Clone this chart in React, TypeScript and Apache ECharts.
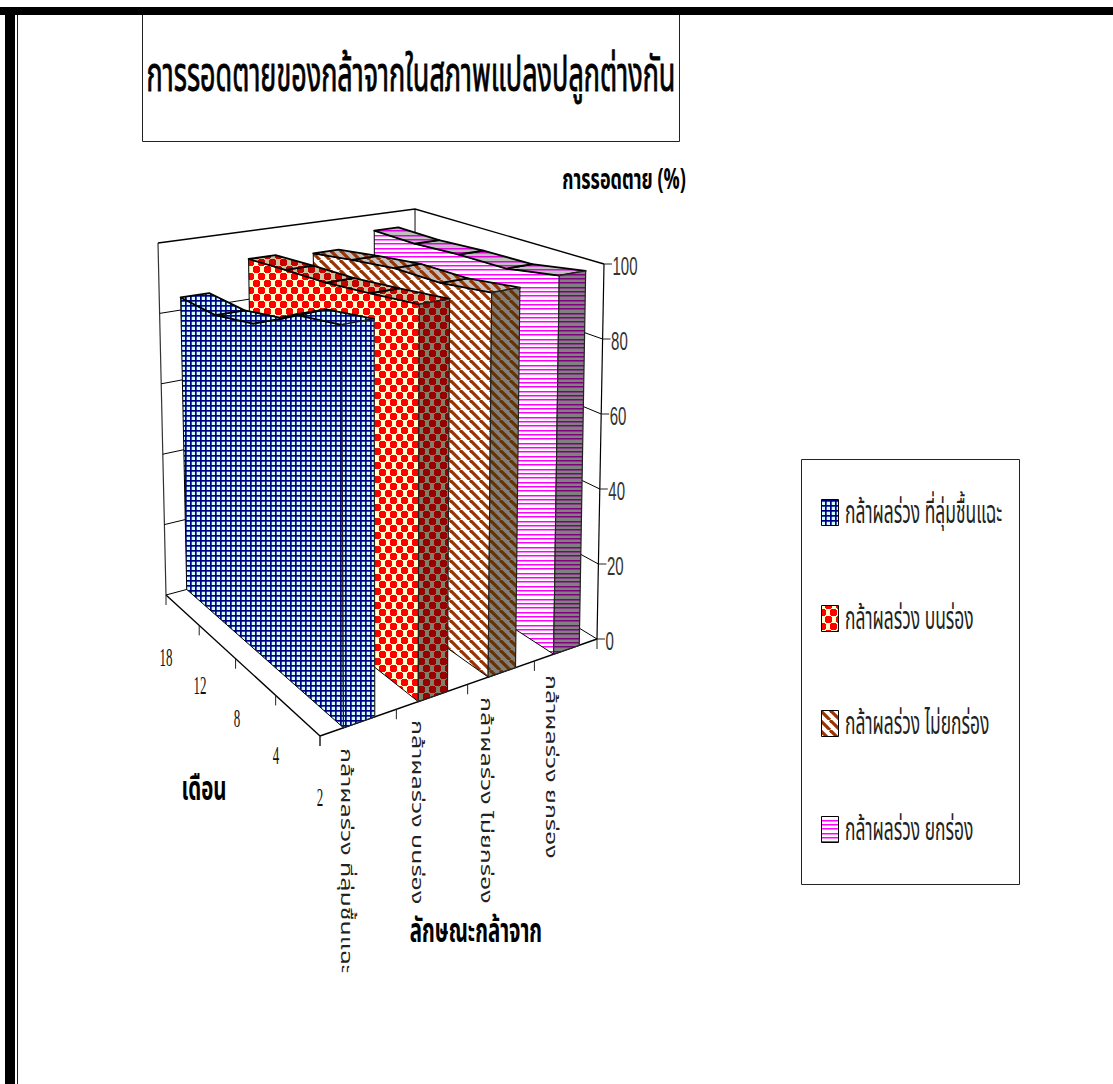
import React, { useEffect, useRef } from "react";
import * as echarts from "echarts";

const chartTitle = "การรอดตายของกล้าจากในสภาพแปลงปลูกต่างกัน";
const valueAxisName = "การรอดตาย (%)";
const depthAxisName = "เดือน";
const seriesAxisName = "ลักษณะกล้าจาก";

const months = ["2", "4", "8", "12", "18"];
const valueTicks = [0, 20, 40, 60, 80, 100];

const legendNames = [
  "กล้าผลร่วง ที่ลุ่มชื้นแฉะ",
  "กล้าผลร่วง บนร่อง",
  "กล้าผลร่วง ไม่ยกร่อง",
  "กล้าผลร่วง ยกร่อง",
];
const categoryNames = legendNames;

// survival (%) at months 2, 4, 8, 12, 18
const wetLowland = [96.4, 93.7, 86.3, 83.5, 83.6];
const onRidge = [98, 95.9, 94, 93, 91.8];
const noRidge = [97.7, 95.5, 95, 93, 90.7];
const raisedRidge = [99, 96.4, 96, 95, 95];
const ribbons = [wetLowland, onRidge, noRidge, raisedRidge];

type Pt = [number, number];

// Maps the unit square onto a quadrilateral (projective), used for the floor and ceiling planes.
function quadMap(p00: Pt, p10: Pt, p11: Pt, p01: Pt) {
  const dx1 = p10[0] - p11[0], dx2 = p01[0] - p11[0], sx = p00[0] - p10[0] + p11[0] - p01[0];
  const dy1 = p10[1] - p11[1], dy2 = p01[1] - p11[1], sy = p00[1] - p10[1] + p11[1] - p01[1];
  const den = dx1 * dy2 - dx2 * dy1;
  const g = (sx * dy2 - dx2 * sy) / den;
  const h = (dx1 * sy - sx * dy1) / den;
  const a = p10[0] - p00[0] + g * p10[0], b = p01[0] - p00[0] + h * p01[0], c = p00[0];
  const d = p10[1] - p00[1] + g * p10[1], e = p01[1] - p00[1] + h * p01[1], f = p00[1];
  return (u: number, v: number): Pt => {
    const w = g * u + h * v + 1;
    return [(a * u + b * v + c) / w, (d * u + e * v + f) / w];
  };
}

const floorAt = quadMap([320, 736], [597, 639], [415.5, 528], [166, 595]);
const ceilAt = quadMap([317, 314], [604, 264], [415, 209], [158, 243]);

const slotCount = 4;
const depthCount = months.length - 1;
const ribbonStart = 0.3;
const ribbonEnd = 0.71;
const gridTop = 264;
const gridHeight = 375;

function makePattern(w: number, h: number, draw: (c: CanvasRenderingContext2D) => void) {
  const canvas = document.createElement("canvas");
  canvas.width = w;
  canvas.height = h;
  draw(canvas.getContext("2d") as CanvasRenderingContext2D);
  return { image: canvas, repeat: "repeat", imageWidth: w, imageHeight: h } as any;
}

function gridFill(bg: string, ink: string) {
  return makePattern(5, 5, (c) => {
    c.fillStyle = bg;
    c.fillRect(0, 0, 5, 5);
    c.fillStyle = ink;
    c.fillRect(0, 0, 5, 1.7);
    c.fillRect(0, 0, 1.7, 5);
  });
}
function dotFill(bg: string, ink: string) {
  return makePattern(11, 14, (c) => {
    c.fillStyle = bg;
    c.fillRect(0, 0, 11, 14);
    c.fillStyle = ink;
    const spots: Pt[] = [[3, 3], [8, 10], [14, 3], [-3, 10]];
    spots.forEach(([x, y]) => {
      c.fillRect(x - 3, y - 2, 7, 5);
      c.fillRect(x - 2, y - 3, 5, 7);
    });
  });
}
function hatchFill(bg: string, ink: string) {
  return makePattern(10, 10, (c) => {
    c.fillStyle = bg;
    c.fillRect(0, 0, 10, 10);
    c.strokeStyle = ink;
    c.lineWidth = 3.2;
    [-10, 0, 10].forEach((o) => {
      c.beginPath();
      c.moveTo(o, 0);
      c.lineTo(o + 10, 10);
      c.stroke();
    });
  });
}
function lineFill(bg: string, ink: string) {
  return makePattern(4, 13, (c) => {
    c.fillStyle = bg;
    c.fillRect(0, 0, 4, 13);
    c.fillStyle = ink;
    [1, 5, 9].forEach((y) => c.fillRect(0, y, 4, 1.5));
  });
}

const LABEL_SANS = '"Liberation Sans", Arial, sans-serif';
const THAI = '"Noto Sans Thai", "Noto Sans", "DejaVu Sans", "Liberation Sans", sans-serif';

function textEl(
  text: string, x: number, y: number, size: number, family: string,
  opts: { bold?: boolean; sx?: number; sy?: number; align?: string; rot?: number; fill?: string; heavy?: number } = {},
) {
  return {
    type: "text",
    x,
    y,
    rotation: opts.rot ?? 0,
    scaleX: opts.sx ?? 1,
    scaleY: opts.sy ?? 1,
    silent: true,
    style: {
      text,
      font: `${opts.bold ? "bold " : ""}${size}px ${family}`,
      fill: opts.fill ?? "#000",
      stroke: opts.heavy ? opts.fill ?? "#000" : undefined,
      lineWidth: opts.heavy ?? 0,
      align: opts.align ?? "center",
      verticalAlign: "middle",
    },
  };
}

export default function App() {
  const ref = useRef<HTMLDivElement>(null);

  useEffect(() => {
    const chart = echarts.init(ref.current as HTMLDivElement, undefined, { renderer: "svg" });

    const faces = [
      { face: gridFill("#ccffff", "#000080"), top: gridFill("#ccffff", "#000080"), cap: gridFill("#ccffff", "#000080") },
      { face: dotFill("#ffffcc", "#ff0000"), top: dotFill("#c8c49c", "#c80000"), cap: dotFill("#808068", "#990000") },
      { face: hatchFill("#ffffff", "#993300"), top: hatchFill("#c0c0c0", "#993300"), cap: hatchFill("#808080", "#663300") },
      { face: lineFill("#ffffff", "#ff00ff"), top: lineFill("#c0c0c0", "#e000e0"), cap: lineFill("#808080", "#800080") },
    ];

    // Back walls, floor outline, ticks and the value gridlines.
    const renderFrame = (_params: any, api: any) => {
      const value = api.value(0);
      const y0 = api.coord([0, 0])[1];
      const y100 = api.coord([0, 100])[1];
      const t = (y0 - api.coord([0, value])[1]) / (y0 - y100);
      const at = (u: number, v: number): Pt => {
        const a = floorAt(u, v);
        const b = ceilAt(u, v);
        return [a[0] + (b[0] - a[0]) * t, a[1] + (b[1] - a[1]) * t];
      };
      const line = (a: Pt, b: Pt, color = "#000", width = 1) => ({
        type: "polyline",
        shape: { points: [a, b] },
        style: { stroke: color, lineWidth: width, fill: "none" },
      });
      const kids: any[] = [
        { type: "polyline", shape: { points: [at(1, 0), at(1, 1), at(0, 1)] }, style: { stroke: "#000", lineWidth: value === 100 ? 1.4 : 1, fill: "none" } },
      ];
      const corner = at(1, 0);
      kids.push(line(corner, [corner[0] + 8, corner[1]], "#222", 1));
      if (value === 0) {
        const tl = ceilAt(0, 1), tb = ceilAt(1, 1), tr = ceilAt(1, 0);
        const fl = floorAt(0, 1), fb = floorAt(1, 1), fr = floorAt(1, 0), ff = floorAt(0, 0);
        kids.push(line(fl, tl, "#333", 1.2), line(fb, tb, "#333", 1.2), line(fr, tr, "#000", 1.2));
        kids.push(line(fl, ff, "#000", 1.4), line(ff, fr, "#000", 1.4));
        for (let i = 0; i <= slotCount; i++) {
          const p = floorAt(i / slotCount, 0);
          kids.push(line(p, [p[0], p[1] + 10], "#222", 1));
        }
        for (let i = 0; i <= depthCount; i++) {
          const p = floorAt(0, i / depthCount);
          kids.push(line(p, [p[0], p[1] + 10], "#222", 1));
        }
      }
      return { type: "group", children: kids };
    };

    // One ribbon of the 3-D area: side face, sloped top panels, dark end cap.
    const renderRibbon = (_params: any, api: any) => {
      const idx = api.value(0);
      const y0 = api.coord([0, 0])[1];
      const y100 = api.coord([0, 100])[1];
      const u0 = (idx + ribbonStart) / slotCount;
      const u1 = (idx + ribbonEnd) / slotCount;
      const pick = (u: number, v: number, val: number): Pt => {
        const t = (y0 - api.coord([0, val])[1]) / (y0 - y100);
        const a = floorAt(u, v);
        const b = ceilAt(u, v);
        return [a[0] + (b[0] - a[0]) * t, a[1] + (b[1] - a[1]) * t];
      };
      const vals = months.map((_, m) => api.value(m + 1));
      const vOf = (m: number) => m / depthCount;
      const ridge = vals.map((val: number, m: number) => pick(u0, vOf(m), val));
      const fill = faces[idx];
      const kids: any[] = [];
      kids.push({
        type: "polygon",
        shape: { points: [floorAt(u0, 1), floorAt(u0, 0), ...ridge] },
        style: { fill: fill.face, stroke: "#000", lineWidth: 1 },
      });
      for (let m = 0; m < depthCount; m++) {
        kids.push({
          type: "polygon",
          shape: {
            points: [pick(u0, vOf(m), vals[m]), pick(u1, vOf(m), vals[m]), pick(u1, vOf(m + 1), vals[m + 1]), pick(u0, vOf(m + 1), vals[m + 1])],
          },
          style: { fill: fill.top, stroke: "#000", lineWidth: 1.8, lineJoin: "round" },
        });
      }
      kids.push({
        type: "polygon",
        shape: { points: [floorAt(u0, 0), floorAt(u1, 0), pick(u1, 0, vals[0]), pick(u0, 0, vals[0])] },
        style: { fill: fill.cap, stroke: "#222", lineWidth: 1.2 },
      });
      return { type: "group", children: kids };
    };

    const texts: any[] = [
      textEl(chartTitle, 411, 76, 36, THAI, { sx: 0.75, sy: 1.35, heavy: 0.7 }),
      textEl(valueAxisName, 624, 181, 20, THAI, { bold: true, sx: 0.9, sy: 1.4 }),
      textEl(depthAxisName, 204, 790, 22, THAI, { bold: true, sx: 0.93, sy: 1.5 }),
      textEl(seriesAxisName, 476, 932, 22, THAI, { bold: true, sx: 0.93, sy: 1.5 }),
    ];

    // Value tick labels follow the leaning corner of the right wall.
    valueTicks.forEach((tick) => {
      const t = tick / 100;
      const a = floorAt(1, 0), b = ceilAt(1, 0);
      const px = a[0] + (b[0] - a[0]) * t + 8.5;
      const py = a[1] + (b[1] - a[1]) * t + 2;
      texts.push(textEl(String(tick), px, py, 25, LABEL_SANS, { sx: 0.6, align: "left", fill: "#333" }));
    });

    const monthSpots: Pt[] = [[320, 797], [276, 755], [237, 718], [200, 685], [166, 657]];
    months.forEach((m, i) => {
      texts.push(textEl(m, monthSpots[i][0], monthSpots[i][1], 25, '"Liberation Serif", serif', { sx: 0.52, fill: "#111" }));
    });

    const catSpots: Pt[] = [[346, 748], [417, 720], [486, 697], [551, 675]];
    categoryNames.forEach((name, i) => {
      texts.push(textEl(name, catSpots[i][0], catSpots[i][1], 16, THAI, { rot: -Math.PI / 2, sx: 1.56, align: "left", fill: "#222" }));
    });

    // Legend box with its swatches.
    texts.push({
      type: "rect",
      silent: true,
      shape: { x: 801.5, y: 459.5, width: 218, height: 425 },
      style: { fill: "#fff", stroke: "#222", lineWidth: 1 },
    });
    const legendY = [499, 605, 710, 816];
    legendNames.forEach((name, i) => {
      texts.push({
        type: "rect",
        silent: true,
        shape: { x: 821.5, y: legendY[i] + 0.5, width: 17, height: 26 },
        style: { fill: faces[i].face, stroke: "#000", lineWidth: 1 },
      });
      texts.push(textEl(name, 845, legendY[i] + 14, 21, THAI, { align: "left", sx: 0.83, sy: 1.5, fill: "#222" }));
    });

    // Title box and page frame.
    texts.push(
      { type: "rect", silent: true, z: -1, shape: { x: 142.5, y: 10, width: 537, height: 131.5 }, style: { fill: "#fff", stroke: "#222", lineWidth: 1 } },
      { type: "rect", silent: true, shape: { x: 0, y: 7, width: 1113, height: 8 }, style: { fill: "#000" } },
      { type: "rect", silent: true, shape: { x: 5, y: 7, width: 10, height: 1077 }, style: { fill: "#000" } },
      { type: "rect", silent: true, shape: { x: 17, y: 15, width: 1, height: 1069 }, style: { fill: "#222" } },
    );

    chart.setOption({
      animation: false,
      backgroundColor: "#ffffff",
      grid: { left: 320, width: 277, top: gridTop, height: gridHeight },
      xAxis: { type: "value", min: 0, max: slotCount, show: false },
      yAxis: { type: "value", min: 0, max: 100, interval: 20, show: false },
      graphic: { elements: texts },
      series: [
        {
          type: "custom",
          coordinateSystem: "cartesian2d",
          renderItem: renderFrame,
          silent: true,
          clip: false,
          encode: { x: 1, y: 0 },
          data: valueTicks.map((v) => [v, 0]),
        },
        {
          type: "custom",
          coordinateSystem: "cartesian2d",
          renderItem: renderRibbon,
          silent: true,
          clip: false,
          encode: { x: 0, y: 1 },
          data: [3, 2, 1, 0].map((i) => [i, ...ribbons[i]]),
        },
      ],
    });

    return () => chart.dispose();
  }, []);

  return <div ref={ref} style={{ position: "fixed", left: 0, top: 0, width: 1113, height: 1084 }} />;
}
